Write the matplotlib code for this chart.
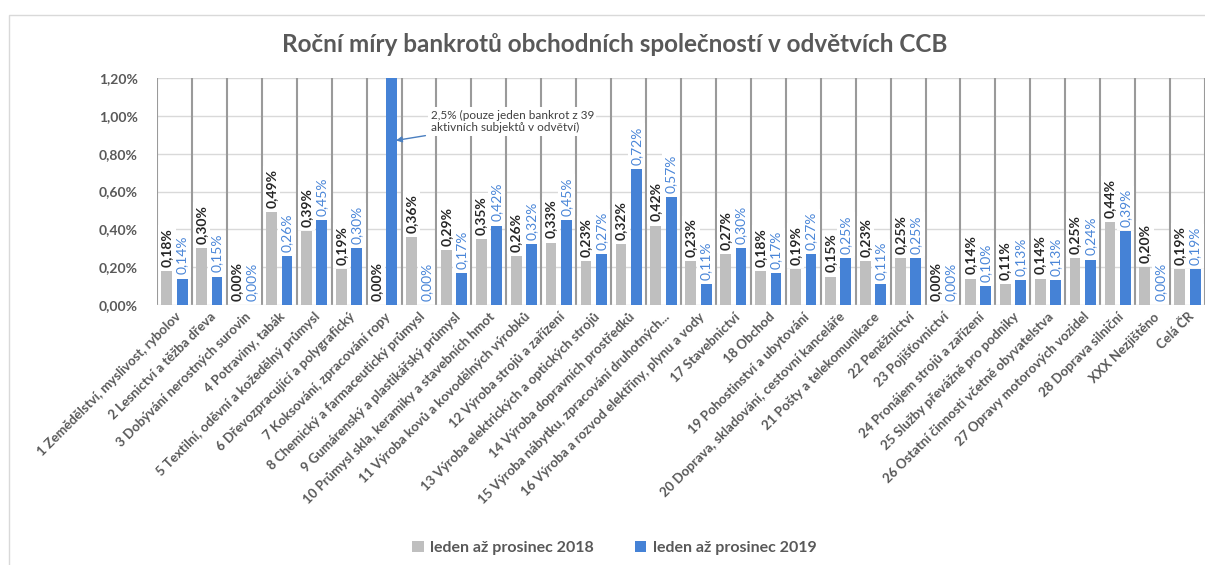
import numpy as np
import matplotlib
matplotlib.use("Agg")
import matplotlib.pyplot as plt
from matplotlib.patches import Rectangle

plt.rcParams['font.family'] = ['Lato', 'DejaVu Sans']

# data (rates in %)
categories = [
    "1 Zemědělství, myslivost, rybolov",
    "2 Lesnictví a těžba dřeva",
    "3 Dobývání nerostných surovin",
    "4 Potraviny, tabák",
    "5 Textilní, oděvní a kožedělný průmysl",
    "6 Dřevozpracující a polygrafický",
    "7 Koksování, zpracování ropy",
    "8 Chemický a farmaceutický průmysl",
    "9 Gumárenský a plastikářský průmysl",
    "10 Průmysl skla, keramiky a stavebních hmot",
    "11 Výroba kovů a kovodělných výrobků",
    "12 Výroba strojů a zařízení",
    "13 Výroba elektrických a optických strojů",
    "14 Výroba dopravních prostředků",
    "15 Výroba nábytku, zpracování druhotných...",
    "16 Výroba a rozvod elektřiny, plynu a vody",
    "17 Stavebnictví",
    "18 Obchod",
    "19 Pohostinství a ubytování",
    "20 Doprava, skladování, cestovní kanceláře",
    "21 Pošty a telekomunikace",
    "22 Peněžnictví",
    "23 Pojišťovnictví",
    "24 Pronájem strojů a zařízení",
    "25 Služby převážně pro podniky",
    "26 Ostatní činnosti včetně obyvatelstva",
    "27 Opravy motorových vozidel",
    "28 Doprava silniční",
    "XXX Nezjištěno",
    "Celá ČR",
]
rate_2018 = [0.18, 0.30, 0.00, 0.49, 0.39, 0.19, 0.00, 0.36, 0.29, 0.35,
             0.26, 0.33, 0.23, 0.32, 0.42, 0.23, 0.27, 0.18, 0.19, 0.15,
             0.23, 0.25, 0.00, 0.14, 0.11, 0.14, 0.25, 0.44, 0.20, 0.19]
rate_2019 = [0.14, 0.15, 0.00, 0.26, 0.45, 0.30, 2.50, 0.00, 0.17, 0.42,
             0.32, 0.45, 0.27, 0.72, 0.57, 0.11, 0.30, 0.17, 0.27, 0.25,
             0.11, 0.25, 0.00, 0.10, 0.13, 0.13, 0.24, 0.39, 0.00, 0.19]
series_names = ["leden až prosinec 2018", "leden až prosinec 2019"]
note_text = "2,5% (pouze jeden bankrot z 39\naktivních subjektů v odvětví)"

gray = "#bfbfbf"
blue = "#4582d6"
txt = "#595959"

fig = plt.figure(figsize=(12.05, 5.65), dpi=100)
ax = fig.add_axes([157 / 1205, 1 - 305 / 565, 1048 / 1205, 227 / 565])

# chart-area border
fig.patches.append(Rectangle((9 / 1205, -0.05), 1.2, 1 - 15 / 565 + 0.05,
                             transform=fig.transFigure, fill=False,
                             edgecolor="#d9d9d9", lw=1))

x = np.arange(len(categories))
w = 0.31
off = 0.22
ax.bar(x - off, rate_2018, w, color=gray, zorder=2, label=series_names[0])
ax.bar(x + off, rate_2019, w, color=blue, zorder=2, label=series_names[1])

ax.set_xlim(-0.5, len(categories) - 0.5)
ax.set_ylim(0, 1.2)

# grid
for v in np.arange(0.2, 1.21, 0.2):
    ax.axhline(v, color="#d9d9d9", lw=1, zorder=0)
for b in np.arange(-0.5, len(categories), 1.0):
    ax.axvline(b, color="#9a9a9a", lw=1.5, zorder=0.5)
ax.axhline(0, color="#d9d9d9", lw=1, zorder=1)

for s in ax.spines.values():
    s.set_visible(False)

# data labels
lbl_box = dict(boxstyle="square,pad=0.2", fc="white", ec="none")
for i in range(len(categories)):
    ax.annotate(f"{rate_2018[i]:.2f}%".replace(".", ","), (x[i] - off, rate_2018[i]),
                xytext=(0, 3), textcoords="offset points", rotation=90,
                ha="center", va="bottom", fontsize=10, fontweight="bold",
                color="#262626", bbox=lbl_box, zorder=3)
    if rate_2019[i] <= 1.2:
        ax.annotate(f"{rate_2019[i]:.2f}%".replace(".", ","), (x[i] + off, rate_2019[i]),
                    xytext=(0, 3), textcoords="offset points", rotation=90,
                    ha="center", va="bottom", fontsize=10,
                    color="#4a86d8", bbox=lbl_box, zorder=3)

# note for the clipped bar
ax.annotate(note_text, xy=(6 + off + 0.12, 0.87), xytext=(7.33, 0.97),
            ha="left", va="center", fontsize=8.5, color="#404040",
            bbox=dict(boxstyle="square,pad=0.2", fc="white", ec="none"),
            arrowprops=dict(arrowstyle="-|>", color="#4a7fc0", lw=1,
                            shrinkA=2, shrinkB=0),
            zorder=4, annotation_clip=False)

ax.set_yticks(np.arange(0, 1.21, 0.2))
ax.set_yticklabels([f"{v:.2f}%".replace(".", ",") for v in np.arange(0, 1.21, 0.2)],
                   fontsize=10, fontweight="bold", color=txt)
ax.set_xticks(x)
ax.set_xticklabels(categories, rotation=45, ha="right", rotation_mode="anchor",
                   fontsize=9.5, fontweight="bold", color=txt)
ax.tick_params(length=0)
ax.tick_params(axis="y", pad=14)
ax.tick_params(axis="x", pad=4)

fig.text(0.51, 1 - 45 / 565, "Roční míry bankrotů obchodních společností v odvětvích CCB",
         ha="center", va="center", fontsize=17.5, fontweight="bold", color=txt)

leg = fig.legend(loc="center", bbox_to_anchor=(0.51, 1 - 548 / 565), ncol=2,
                 frameon=False, handlelength=0.7, handleheight=0.7,
                 columnspacing=2.6, handletextpad=0.4,
                 prop=dict(weight="bold", size=11.5))
for t in leg.get_texts():
    t.set_color(txt)

fig.savefig("out.png", dpi=100)
